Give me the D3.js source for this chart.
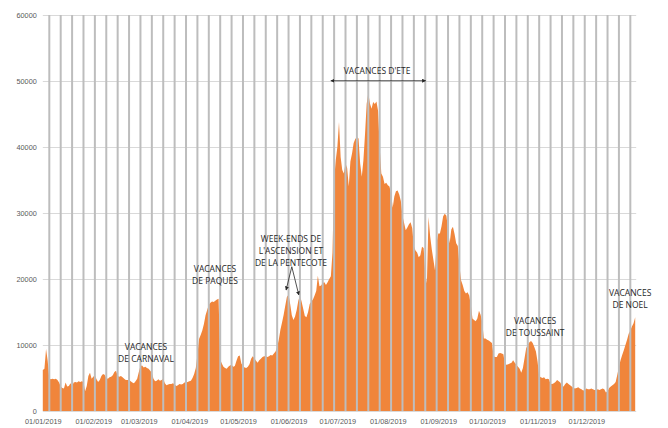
<!DOCTYPE html>
<html>
<head>
<meta charset="utf-8">
<script src="https://cdn.jsdelivr.net/npm/d3@7"></script>
<style>
  body { margin: 0; background: #fff; }
  svg { display: block; font-family: "Open Sans", sans-serif; }
</style>
</head>
<body>
<svg id="svg" width="668" height="428"></svg>
<script>
// valeurs journalieres 2019, un tableau par mois
const jan = [6200, 6400, 9400, 7600, 4900, 4800, 4900, 4800, 4900, 4700, 4300, 3700, 3500, 3400, 4300, 3700,
  3800, 4200, 3800, 4300, 4400, 4300, 4500, 4400, 4500, 4400, 3000, 3800, 5300, 5800, 4900];
const feb = [5200, 5400, 4800, 4400, 4700, 5300, 5600, 5500, 5000, 4900, 5100, 5200, 5400, 5900, 6100, 5300,
  5200, 5300, 5100, 4900, 4700, 4700, 4700, 4500, 4300, 4200, 4500, 4900];
const mar = [5900, 6800, 6900, 6600, 6700, 6500, 6400, 6100, 5800, 4900, 4500, 4600, 4800, 4600, 4700, 4900,
  4200, 3900, 4000, 4100, 4100, 4200, 4000, 3800, 3900, 4100, 4000, 4100, 4300, 4300, 4400];
const apr = [4500, 4600, 5000, 5600, 6500, 8500, 10900, 11500, 12200, 13200, 14500, 15300, 16100, 16400, 16600,
  16500, 16700, 16900, 17000, 7800, 7200, 6700, 6500, 6400, 6700, 6900, 7000, 6700, 6800, 7600];
const may = [8300, 8400, 7200, 6800, 6600, 6500, 6700, 7100, 7900, 8300, 8000, 7600, 7300, 7700, 7900, 8200,
  8300, 8300, 8200, 8300, 8500, 8400, 8700, 9000, 9700, 10800, 12300, 13400, 14600, 16000, 17300];
const jun = [17600, 16200, 14500, 13800, 14300, 15300, 16700, 17500, 16600, 15500, 14400, 14200, 15000, 16200,
  16600, 16900, 17500, 18200, 20500, 18900, 19000, 19400, 19500, 19100, 19500, 20000, 20400, 24000, 35000, 38000];
const jul = [40000, 43800, 38500, 36500, 36000, 37500, 36800, 34000, 37800, 39000, 40600, 41200, 41500, 41300,
  37500, 35500, 38000, 42000, 46500, 48200, 46600, 45800, 46800, 46500, 46900, 45500, 40000, 36000, 35500,
  34400, 34600];
const aug = [34200, 34000, 32900, 30800, 32500, 33300, 33400, 32800, 31800, 29600, 28500, 27400, 27800, 28300,
  28600, 27700, 25000, 24300, 24000, 23300, 23600, 24900, 24700, 21000, 19300, 29400, 26500, 24500, 22900,
  21300, 25500];
const sep = [26900, 26900, 28000, 29500, 29900, 29600, 27500, 25400, 27500, 27900, 26800, 25400, 25000, 22000,
  19800, 19100, 18200, 17800, 18000, 17500, 16100, 14000, 13800, 13600, 14000, 15200, 14600, 13500, 11000, 11000];
const oct = [10800, 10700, 10500, 10300, 8300, 8200, 8200, 8700, 8800, 8700, 8600, 7100, 7000, 7100, 7200, 7300,
  7700, 7300, 7000, 6700, 6400, 5800, 6500, 8000, 9500, 10000, 10400, 10600, 10300, 9700, 9000];
const nov = [7500, 5300, 5100, 5000, 5100, 4800, 4900, 4800, 4100, 4100, 4200, 4400, 4700, 4500, 4300, 3800,
  3700, 4100, 4300, 4100, 3900, 3700, 3500, 3400, 3500, 3600, 3400, 3300, 3100, 3200];
const dec = [3400, 3300, 3300, 3400, 3300, 3200, 3200, 3300, 3200, 3300, 3400, 3300, 2800, 3000, 3500, 3700,
  3900, 4100, 4400, 5500, 6700, 7700, 8500, 9200, 10000, 10800, 11700, 12200, 12800, 13300, 14200];

const yTicks = [0, 10000, 20000, 30000, 40000, 50000, 60000];

// annotations : [jour de l'annee, valeur, lignes]
const notes = [
  [63.4, 9700, ["VACANCES", "DE CARNAVAL"]],
  [105.8, 21500, ["VACANCES", "DE PAQUES"]],
  [152.5, 26060, ["WEEK-ENDS DE", "L'ASCENSION ET", "DE LA PENTECOTE"]],
  [205.4, 51550, ["VACANCES D'ETE"]],
  [302.5, 13680, ["VACANCES", "DE TOUSSAINT"]],
  [360.9, 17830, ["VACANCES", "DE NOEL"]]
];

// fleches : [debut, fin] en [jour, valeur]
const arrows = [
  [[153.0, 21860], [149.5, 18330]],
  [[153.0, 21860], [157.3, 17580]],
  [[177.0, 50040], [235.3, 50040]]
];

const values = [].concat(jan, feb, mar, apr, may, jun, jul, aug, sep, oct, nov, dec);
const start = new Date(2019, 0, 1);
const days = d3.timeDay.range(start, new Date(2020, 0, 1));
const data = days.map((d, i) => ({ date: d, value: values[i] }));

const svg = d3.select("#svg");
const plotLeft = 42.8, plotRight = 635.2, plotTop = 15, plotBottom = 411;

const x = d3.scaleTime()
  .domain([start, new Date(2019, 11, 31)])
  .range([plotLeft, plotRight]);

const y = d3.scaleLinear()
  .domain([0, 60000])
  .range([plotBottom, plotTop]);

const dayX = n => x(new Date(start.getTime() + n * 864e5));

// grille horizontale + etiquettes
const yAxis = d3.axisLeft(y)
  .tickValues(yTicks)
  .tickFormat(d3.format("d"))
  .tickSize(-(plotRight - plotLeft + 1))
  .tickPadding(6);

svg.append("g")
  .attr("transform", `translate(${plotLeft}, 0)`)
  .call(yAxis)
  .call(g => g.select(".domain").remove())
  .call(g => g.selectAll("line").attr("stroke", "#d9d9d9"))
  .call(g => g.selectAll("text").attr("fill", "#595959").style("font-size", "7.3px"));

// surface
const area = d3.area()
  .x(d => x(d.date))
  .y0(y(0))
  .y1(d => y(d.value));

svg.append("path")
  .datum(data)
  .attr("fill", "#f0853b")
  .attr("d", area);

// lignes verticales hebdomadaires
svg.append("g")
  .selectAll("line")
  .data(d3.timeSaturday.range(start, new Date(2020, 0, 1)))
  .enter()
  .append("line")
  .attr("x1", d => x(d))
  .attr("x2", d => x(d))
  .attr("y1", y(60000))
  .attr("y2", y(0))
  .attr("stroke", "#bdbdbd")
  .attr("stroke-width", 2);

// axe des dates
const xAxis = d3.axisBottom(x)
  .tickValues(d3.timeMonth.range(start, new Date(2020, 0, 1)))
  .tickFormat(d3.timeFormat("%d/%m/%Y"))
  .tickSize(0)
  .tickPadding(8);

svg.append("g")
  .attr("transform", `translate(0, ${plotBottom})`)
  .call(xAxis)
  .call(g => g.select(".domain").attr("stroke", "#d9d9d9"))
  .call(g => g.selectAll("text").attr("fill", "#595959").style("font-size", "7.3px"));

// fleches
svg.append("defs")
  .append("marker")
  .attr("id", "head")
  .attr("viewBox", "0 0 10 10")
  .attr("refX", 9).attr("refY", 5)
  .attr("markerWidth", 5).attr("markerHeight", 5)
  .attr("orient", "auto-start-reverse")
  .append("path")
  .attr("d", "M0,0L10,5L0,10z")
  .attr("fill", "#262626");

svg.append("g")
  .selectAll("line")
  .data(arrows)
  .enter()
  .append("line")
  .attr("x1", d => dayX(d[0][0]))
  .attr("y1", d => y(d[0][1]))
  .attr("x2", d => dayX(d[1][0]))
  .attr("y2", d => y(d[1][1]))
  .attr("stroke", "#262626")
  .attr("stroke-width", 0.8)
  .attr("marker-end", "url(#head)")
  .attr("marker-start", (d, i) => i === 2 ? "url(#head)" : null);

// textes
const noteG = svg.append("g")
  .attr("fill", "#262626")
  .style("font-size", "8.5px")
  .attr("text-anchor", "middle");

notes.forEach(n => {
  n[2].forEach((line, i) => {
    noteG.append("text")
      .attr("x", dayX(n[0]))
      .attr("y", y(n[1]) + i * 12)
      .attr("dy", "0.35em")
      .text(line);
  });
});
</script>
</body>
</html>
